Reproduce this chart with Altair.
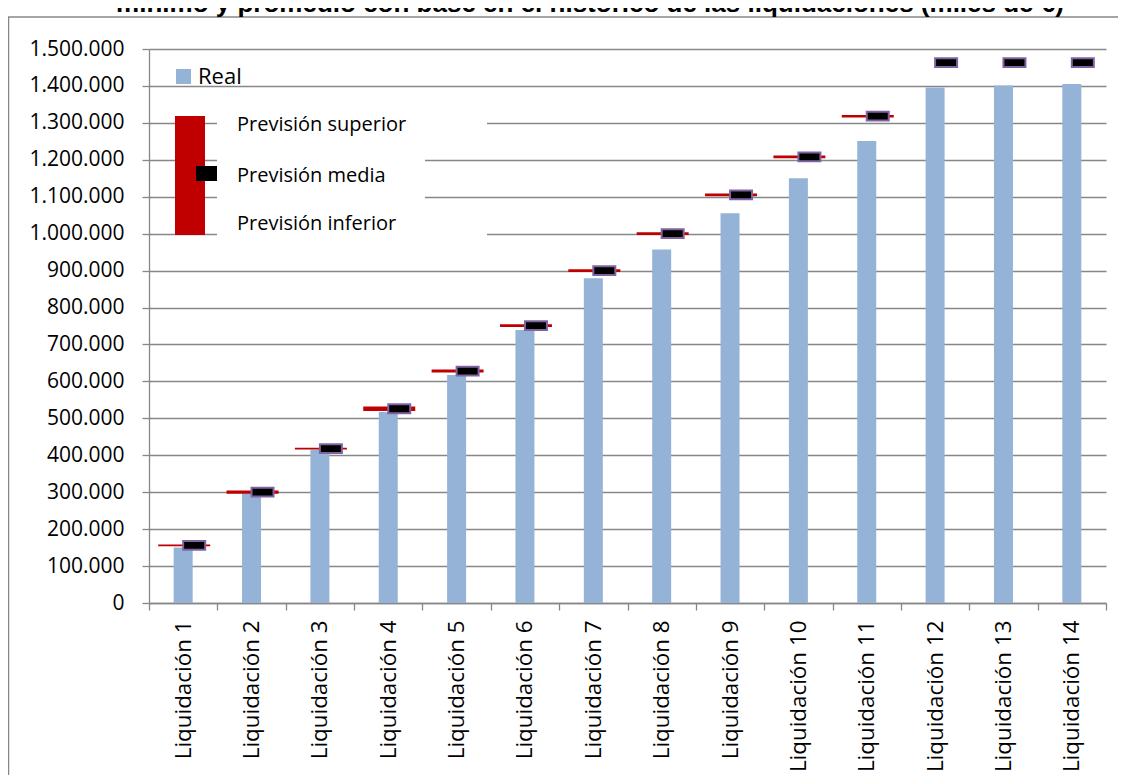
import altair as alt
import pandas as pd

# ---------------- data (miles de €) ----------------
categorias = ["Liquidación 1", "Liquidación 2", "Liquidación 3", "Liquidación 4",
              "Liquidación 5", "Liquidación 6", "Liquidación 7", "Liquidación 8",
              "Liquidación 9", "Liquidación 10", "Liquidación 11", "Liquidación 12",
              "Liquidación 13", "Liquidación 14"]
real = [150000, 297000, 415000, 517000, 617000, 739000, 879000, 957000,
        1055000, 1150000, 1251000, 1396000, 1401000, 1405000]
prevision_media = [156000, 300000, 418000, 526000, 628000, 751000, 900000, 1000000,
                   1105000, 1208000, 1318000, 1463000, 1463000, 1463000]
prevision_superior = [158500, 304500, 420500, 532000, 632000, 755000, 903500, 1003500,
                      1108500, 1211500, 1321500, None, None, None]
prevision_inferior = [153500, 295500, 415500, 520000, 624000, 747000, 896500, 996500,
                      1101500, 1204500, 1314500, None, None, None]
y_ticks = [0, 100000, 200000, 300000, 400000, 500000, 600000, 700000, 800000,
           900000, 1000000, 1100000, 1200000, 1300000, 1400000, 1500000]
titulo = "mínimo y promedio con base en el histórico de las liquidaciones (miles de €)"

df = pd.DataFrame({"cat": categorias, "real": real, "media": prevision_media,
                   "sup": prevision_superior, "inf": prevision_inferior})
rng = df.dropna(subset=["sup", "inf"])
dummy = pd.DataFrame({"d": [0]})

GRAY = "#878787"
BLUE = "#95b3d7"
RED = "#c00000"
PURPLE = "#8064a2"
FONT = "Open Sans"

x_axis = alt.Axis(labelAngle=-90, labelFontSize=22.4, labelColor="black",
                  labelFont=FONT, labelPadding=10, tickBand="extent",
                  tickSize=7, tickColor=GRAY, domainColor=GRAY,
                  domainWidth=1.3, tickWidth=1.3, grid=False,
                  labelOverlap=False, labelLimit=400)
y_axis = alt.Axis(values=y_ticks, tickCount=16, labelOverlap=False,
                  labelExpr="replace(format(datum.value, ','), regexp(',', 'g'), '.')",
                  labelFontSize=21, labelFont=FONT, labelColor="black",
                  labelPadding=18, tickSize=7, tickColor=GRAY,
                  domainColor=GRAY, domainWidth=1.3, tickWidth=1.3,
                  grid=True, gridColor=GRAY, gridWidth=1.3)
x_scale = alt.Scale(paddingInner=0, paddingOuter=0)
y_scale = alt.Scale(domain=[0, 1500000], nice=False, zero=True)


def xenc():
    return alt.X("cat:N", sort=categorias, title=None, scale=x_scale, axis=x_axis)


def yenc(field):
    return alt.Y(field, scale=y_scale, title=None, axis=y_axis)


bars = alt.Chart(df).mark_bar(width=19, color=BLUE).encode(
    x=xenc(), y=yenc("real:Q"))

rango = alt.Chart(rng).mark_bar(width=52, xOffset=1, color=RED).encode(
    x=xenc(), y=yenc("sup:Q"), y2="inf:Q")

RECT_PATH = "M-1,-0.4L1,-0.4L1,0.4L-1,0.4Z"
media = alt.Chart(df).mark_point(shape=RECT_PATH, size=484, filled=True, fill="black",
                                 stroke=PURPLE, strokeWidth=2, opacity=1,
                                 xOffset=11).encode(
    x=xenc(), y=yenc("media:Q"))

# ---------------- manual legend (Excel style) ----------------
leg = []
leg.append(alt.Chart(dummy).mark_rect(color=BLUE).encode(
    x=alt.value(27), x2=alt.value(42), y=alt.value(20), y2=alt.value(35)))
leg.append(alt.Chart(dummy).mark_text(text="Real", fontSize=22, font=FONT, color="black",
                                      align="left", baseline="alphabetic").encode(
    x=alt.value(49), y=alt.value(35)))
for (x0, x1, y0, y1) in [(68, 338, 51, 92), (68, 276, 92, 167), (68, 338, 167, 201)]:
    leg.append(alt.Chart(dummy).mark_rect(color="white").encode(
        x=alt.value(x0), x2=alt.value(x1), y=alt.value(y0), y2=alt.value(y1)))
leg.append(alt.Chart(dummy).mark_rect(color=RED).encode(
    x=alt.value(26), x2=alt.value(56), y=alt.value(67), y2=alt.value(186)))
leg.append(alt.Chart(dummy).mark_rect(color="black").encode(
    x=alt.value(47), x2=alt.value(68), y=alt.value(117), y2=alt.value(132)))
for txt, yy in [("Previsión superior", 81.5), ("Previsión media", 133), ("Previsión inferior", 181)]:
    leg.append(alt.Chart(dummy).mark_text(text=txt, fontSize=20, font=FONT, color="black",
                                          align="left", baseline="alphabetic").encode(
        x=alt.value(88), y=alt.value(yy)))

# ---------------- frame (top and left edges) and cut title ----------------
frame_top = alt.Chart(dummy).mark_rule(color=GRAY, strokeWidth=1.5).encode(
    x=alt.value(-141.5), x2=alt.value(975), y=alt.value(-32))
frame_left = alt.Chart(dummy).mark_rule(color=GRAY, strokeWidth=1.5).encode(
    x=alt.value(-140.5), y=alt.value(-32), y2=alt.value(740))
title = alt.Chart(dummy).mark_text(text=titulo, fontSize=26, font="Liberation Sans",
                                   fontWeight="bold", color="black", align="center",
                                   baseline="alphabetic").encode(
    x=alt.value(441), y=alt.value(-37.5))

chart = alt.layer(bars, rango, media, *leg, frame_top, frame_left, title).properties(
    width=957, height=554,
    autosize=alt.AutoSizeParams(type="none"),
    padding={"left": 141, "top": 41, "right": 12, "bottom": 172},
).configure_view(stroke=None)

chart.save("out.html", embed_options={"renderer": "svg", "actions": False})
